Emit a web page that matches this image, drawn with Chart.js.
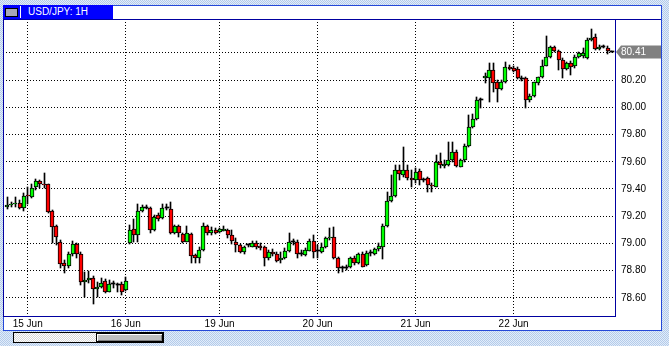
<!DOCTYPE html>
<html>
<head>
<meta charset="utf-8">
<script src="https://cdn.jsdelivr.net/npm/chart.js@4.4.0/dist/chart.umd.min.js"></script>
<style>
  html, body { margin: 0; padding: 0; }
  body {
    width: 669px; height: 346px; overflow: hidden; position: relative;
    background-color: #c6d9f1;
    background-image: repeating-conic-gradient(#e2ecf9 0 25%, #b3cbea 0 50%);
    background-size: 2px 2px;
    font-family: 'Liberation Sans', Arial, sans-serif;
  }
  #panel {
    position: absolute; left: 3px; top: 5px; width: 659px; height: 326px;
    box-sizing: border-box; background: #fff; border: 1px solid #2448d8;
  }
  #title {
    position: absolute; left: 3px; top: 5px; width: 110px; height: 14px;
    background: #0000ff; color: #fff; font-size: 10px; line-height: 14px;
  }
  #title .icon {
    position: absolute; left: 2px; top: 3px; width: 11px; height: 7px;
    background: #a8a8b8; border: 1px solid #000;
  }
  #title .sep { position: absolute; left: 17px; top: 1px; width: 1px; height: 12px; background: #fff; }
  #title .txt { position: absolute; left: 25px; top: 0; white-space: nowrap; }
  #chart { position: absolute; left: 0; top: 0; }
  #scroll {
    position: absolute; left: 13px; top: 332px; width: 151px; height: 11px;
    box-sizing: border-box; border: 1px solid #000;
    background-color: #eeeeee;
    background-image: repeating-conic-gradient(#ffffff 0 25%, #d8d8d8 0 50%);
    background-size: 2px 2px;
  }
  #thumb {
    position: absolute; left: 82px; top: 0; width: 67px; height: 9px;
    box-sizing: border-box; background: #c0c0c0; border: 1px solid #000;
    box-shadow: inset 1px 1px 0 #fff, inset -1px -1px 0 #808080;
  }
</style>
</head>
<body>
<div id="panel"></div>
<div id="title"><div class="icon"></div><div class="sep"></div><div class="txt">USD/JPY: 1H</div></div>
<canvas id="chart" width="669" height="346"></canvas>
<div id="scroll"><div id="thumb"></div></div>
<script>
// hourly candles (index 0 = first bar on the left)
const opens = [
  79.265, 79.280, 79.290, 79.299, 79.258, 79.351, 79.343, 79.417, 79.459, 79.437,
  79.437, 79.238, 79.128, 79.008, 78.854, 78.834, 78.920, 78.998, 78.920, 78.714,
  78.729, 78.743, 78.662, 78.681, 78.726, 78.645, 78.700, 78.700, 78.704, 78.657,
  79.001, 79.104, 79.060, 79.236, 79.265, 79.258, 79.099, 79.207, 79.185, 79.258,
  79.251, 79.074, 79.128, 79.067, 79.013, 79.067, 78.915, 78.890, 78.952, 79.128,
  79.074, 79.099, 79.087, 79.094, 79.099, 79.062, 79.013, 78.988, 78.935, 78.988,
  78.976, 79.001, 78.981, 78.971, 78.895, 78.940, 78.920, 78.876, 78.890, 78.944,
  79.013, 79.013, 78.927, 78.915, 78.946, 79.020, 78.941, 78.940, 78.971, 79.037,
  79.049, 78.890, 78.824, 78.821, 78.824, 78.890, 78.854, 78.920, 78.841, 78.927,
  78.920, 78.957, 78.976, 79.126, 79.312, 79.345, 79.537, 79.503, 79.543, 79.483,
  79.463, 79.529, 79.466, 79.479, 79.426, 79.417, 79.596, 79.569, 79.580, 79.610,
  79.670, 79.565, 79.610, 79.718, 79.854, 79.913, 80.054, 80.214, 80.214, 80.275,
  80.189, 80.137, 80.189, 80.295, 80.287, 80.280, 80.214, 80.214, 80.054, 80.085,
  80.177, 80.221, 80.308, 80.368, 80.442, 80.415, 80.352, 80.286, 80.324, 80.301,
  80.368, 80.378, 80.361, 80.496, 80.514, 80.429, 80.446, 80.435, 80.411
];
const highs = [
  79.343, 79.304, 79.341, 79.319, 79.368, 79.417, 79.435, 79.474, 79.466, 79.515,
  79.440, 79.246, 79.135, 79.025, 78.878, 78.935, 79.018, 79.003, 78.937, 78.792,
  78.797, 78.760, 78.718, 78.743, 78.740, 78.731, 78.724, 78.711, 78.716, 78.751,
  79.135, 79.177, 79.290, 79.282, 79.279, 79.268, 79.209, 79.224, 79.290, 79.290,
  79.302, 79.135, 79.135, 79.074, 79.128, 79.074, 78.922, 78.976, 79.148, 79.135,
  79.118, 79.113, 79.113, 79.128, 79.106, 79.099, 79.038, 78.996, 78.981, 78.999,
  79.018, 79.018, 79.001, 78.981, 78.952, 78.959, 78.937, 78.937, 78.966, 79.074,
  79.033, 79.025, 78.952, 78.966, 79.030, 79.062, 78.988, 79.001, 79.049, 79.111,
  79.118, 78.900, 78.834, 78.841, 78.902, 78.907, 78.932, 78.940, 78.944, 78.952,
  78.964, 79.003, 79.143, 79.380, 79.503, 79.576, 79.576, 79.711, 79.576, 79.540,
  79.552, 79.547, 79.481, 79.488, 79.444, 79.650, 79.663, 79.613, 79.748, 79.744,
  79.687, 79.621, 79.731, 79.944, 79.950, 80.079, 80.067, 80.251, 80.324, 80.329,
  80.201, 80.198, 80.336, 80.312, 80.304, 80.297, 80.231, 80.224, 80.099, 80.190,
  80.227, 80.349, 80.525, 80.448, 80.455, 80.422, 80.363, 80.334, 80.341, 80.385,
  80.407, 80.437, 80.510, 80.574, 80.540, 80.459, 80.459, 80.451, 80.415
];
const lows = [
  79.251, 79.268, 79.268, 79.253, 79.240, 79.287, 79.334, 79.393, 79.407, 79.407,
  79.224, 79.001, 78.988, 78.819, 78.780, 78.819, 78.907, 78.895, 78.694, 78.608,
  78.708, 78.552, 78.608, 78.672, 78.633, 78.643, 78.672, 78.645, 78.623, 78.650,
  78.996, 79.013, 79.013, 79.231, 79.253, 79.074, 79.091, 79.165, 79.179, 79.246,
  79.069, 79.069, 79.049, 79.003, 79.007, 78.858, 78.854, 78.854, 78.944, 79.062,
  79.062, 79.069, 79.077, 79.091, 79.038, 78.993, 78.935, 78.926, 78.922, 78.974,
  78.974, 78.959, 78.952, 78.836, 78.878, 78.907, 78.863, 78.856, 78.885, 78.937,
  78.988, 78.890, 78.907, 78.907, 78.944, 78.890, 78.890, 78.929, 78.966, 79.025,
  78.885, 78.780, 78.792, 78.804, 78.819, 78.841, 78.849, 78.823, 78.834, 78.907,
  78.915, 78.944, 78.885, 79.120, 79.304, 79.341, 79.466, 79.490, 79.466, 79.415,
  79.444, 79.429, 79.451, 79.378, 79.378, 79.411, 79.555, 79.551, 79.569, 79.599,
  79.564, 79.562, 79.599, 79.709, 79.845, 79.907, 79.993, 80.177, 80.042, 80.115,
  80.042, 80.128, 80.183, 80.275, 80.260, 80.209, 80.194, 79.999, 80.040, 80.077,
  80.168, 80.216, 80.301, 80.363, 80.407, 80.275, 80.214, 80.278, 80.238, 80.293,
  80.363, 80.360, 80.356, 80.488, 80.422, 80.422, 80.437, 80.390, 80.407
];
const closes = [
  79.280, 79.287, 79.297, 79.258, 79.351, 79.346, 79.410, 79.459, 79.437, 79.429,
  79.229, 79.123, 79.045, 78.849, 78.834, 78.920, 78.998, 78.920, 78.714, 78.731,
  78.743, 78.662, 78.681, 78.711, 78.640, 78.700, 78.703, 78.697, 78.645, 78.726,
  79.097, 79.060, 79.236, 79.265, 79.262, 79.099, 79.192, 79.177, 79.258, 79.260,
  79.074, 79.128, 79.074, 79.013, 79.074, 78.910, 78.895, 78.952, 79.128, 79.074,
  79.099, 79.080, 79.104, 79.108, 79.062, 79.018, 78.988, 78.935, 78.971, 78.986,
  79.001, 78.971, 78.964, 78.890, 78.940, 78.920, 78.871, 78.895, 78.944, 79.013,
  79.016, 78.922, 78.924, 78.952, 79.018, 78.940, 78.944, 78.971, 79.037, 79.047,
  78.890, 78.817, 78.821, 78.824, 78.890, 78.854, 78.920, 78.829, 78.927, 78.929,
  78.957, 78.981, 79.126, 79.312, 79.345, 79.537, 79.510, 79.540, 79.483, 79.463,
  79.525, 79.463, 79.463, 79.426, 79.422, 79.596, 79.577, 79.584, 79.610, 79.670,
  79.569, 79.610, 79.718, 79.856, 79.913, 80.051, 80.051, 80.231, 80.275, 80.177,
  80.133, 80.189, 80.295, 80.280, 80.271, 80.214, 80.212, 80.051, 80.085, 80.184,
  80.221, 80.308, 80.368, 80.442, 80.415, 80.345, 80.280, 80.324, 80.299, 80.374,
  80.398, 80.400, 80.496, 80.512, 80.429, 80.446, 80.449, 80.415, 80.410
];

// first bar of each day, and its label
const dayIndex = [5, 29, 52, 76, 100, 124];
const dayLabels = ['15 Jun', '16 Jun', '19 Jun', '20 Jun', '21 Jun', '22 Jun'];
const priceTicks = [78.6, 78.8, 79.0, 79.2, 79.4, 79.6, 79.8, 80.0, 80.2, 80.4];

let bodies = opens.map((o, i) => ({ x: i, y: [o, closes[i]] }));
let wicks = lows.map((l, i) => ({ x: i, y: [l, highs[i]] }));

function isDoji(i) {
    return Math.abs(opens[i] - closes[i]) < 0.004;
}

// snap the bars to whole pixels so the candles stay sharp
const snapPlugin = {
    id: 'snap',
    beforeDatasetsDraw(chart) {
        chart.getDatasetMeta(0).data.forEach(el => {
            el.x = Math.round(el.x);
            el.y = Math.round(el.y);
            el.base = Math.round(el.base);
        });
        chart.getDatasetMeta(1).data.forEach(el => {
            el.x = Math.floor(el.x) + 0.5;
            el.y = Math.round(el.y);
            el.base = Math.round(el.base);
        });
    }
};

// frame round the plot and the last price tag on the right
const framePlugin = {
    id: 'frame',
    afterDraw(chart) {
        let ctx = chart.ctx;
        let a = chart.chartArea;
        ctx.save();
        ctx.strokeStyle = '#0000a0';
        ctx.lineWidth = 1;
        ctx.strokeRect(a.left + 0.5, a.top + 0.5, a.right - a.left, a.bottom - a.top);
        ctx.beginPath();
        ctx.moveTo(a.right, a.top + 0.5);
        ctx.lineTo(661, a.top + 0.5);
        ctx.stroke();

        let last = closes[closes.length - 1];
        let y = Math.round(chart.scales.y.getPixelForValue(last));
        ctx.fillStyle = '#808080';
        ctx.beginPath();
        ctx.moveTo(a.right + 1, y);
        ctx.lineTo(a.right + 6, y - 6.5);
        ctx.lineTo(661, y - 6.5);
        ctx.lineTo(661, y + 6.5);
        ctx.lineTo(a.right + 6, y + 6.5);
        ctx.closePath();
        ctx.fill();
        ctx.fillStyle = '#ffffff';
        ctx.font = "10px 'Liberation Sans', Arial, sans-serif";
        ctx.textBaseline = 'middle';
        ctx.textAlign = 'left';
        ctx.fillText(last.toFixed(2), a.right + 6, y + 0.5);
        ctx.restore();
    }
};

Chart.defaults.font.family = "'Liberation Sans', Arial, sans-serif";
Chart.defaults.font.size = 10;
Chart.defaults.color = '#000';

let ctx = document.getElementById('chart').getContext('2d');
let chart = new Chart(ctx, {
    type: 'bar',
    data: {
        datasets: [{
            label: 'body',
            data: bodies,
            order: 0,
            grouped: false,
            barThickness: 4,
            minBarLength: 1,
            borderSkipped: false,
            borderColor: '#000',
            borderWidth: c => isDoji(c.dataIndex) ? 0 : 1,
            backgroundColor: c => {
                let i = c.dataIndex;
                if (isDoji(i)) return '#000';
                return closes[i] >= opens[i] ? '#00ff00' : '#ff0000';
            }
        }, {
            label: 'wick',
            data: wicks,
            order: 1,
            grouped: false,
            barThickness: 1,
            borderWidth: 0,
            backgroundColor: '#000'
        }]
    },
    options: {
        responsive: false,
        animation: false,
        devicePixelRatio: 1,
        layout: { padding: { left: 3, top: 19, right: 0, bottom: 0 } },
        plugins: {
            legend: { display: false },
            tooltip: { enabled: false }
        },
        scales: {
            x: {
                type: 'linear',
                offset: false,
                min: -1.053,
                max: 148.83,
                afterBuildTicks: s => { s.ticks = dayIndex.map(v => ({ value: v })); },
                afterFit: s => { s.height = 30; },
                ticks: {
                    autoSkip: false,
                    maxRotation: 0,
                    padding: 2,
                    callback: v => dayLabels[dayIndex.indexOf(v)]
                },
                grid: { color: '#000', drawTicks: false, offset: false },
                border: { display: false, dash: [1, 2] }
            },
            y: {
                position: 'right',
                beginAtZero: false,
                min: 78.466,
                max: 80.65,
                afterBuildTicks: s => { s.ticks = priceTicks.map(v => ({ value: v })); },
                afterFit: s => { s.width = 54; },
                ticks: {
                    padding: 6,
                    callback: v => Math.abs(v - 80.4) < 1e-6 ? '' : v.toFixed(2)
                },
                grid: { color: '#000', drawTicks: false },
                border: { display: false, dash: [1, 2] }
            }
        }
    },
    plugins: [snapPlugin, framePlugin]
});
</script>
</body>
</html>
